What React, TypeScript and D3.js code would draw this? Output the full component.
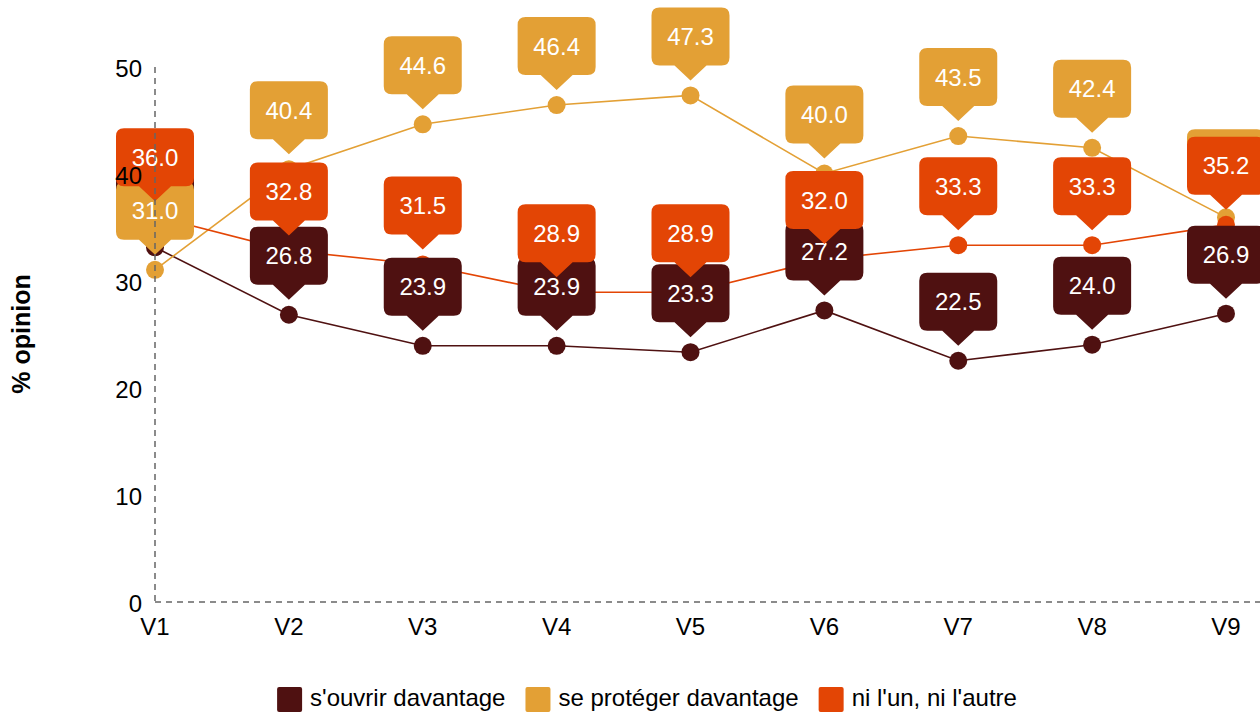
import React from 'react';
import * as d3 from 'd3';

const categories = ['V1', 'V2', 'V3', 'V4', 'V5', 'V6', 'V7', 'V8', 'V9'];
const seriesNames = ["s'ouvrir davantage", 'se protéger davantage', "ni l'un, ni l'autre"];
const ouvrirValues = [33.1, 26.8, 23.9, 23.9, 23.3, 27.2, 22.5, 24.0, 26.9];
const protegerValues = [31.0, 40.4, 44.6, 46.4, 47.3, 40.0, 43.5, 42.4, 35.9];
const niValues = [36.0, 32.8, 31.5, 28.9, 28.9, 32.0, 33.3, 33.3, 35.2];
const yTicks = [0, 10, 20, 30, 40, 50];
const seriesColors = ['#4f1111', '#e3a035', '#e34505'];
const yTitle = '% opinion';

const W = 1260;
const H = 713;
const FONT = "'Liberation Sans', Arial, Helvetica, sans-serif";

function textWidth(t: string, size: number) {
  const c = document.createElement('canvas');
  const ctx = c.getContext('2d')!;
  ctx.font = `${size}px ${FONT}`;
  return ctx.measureText(t).width;
}

function calloutPath(cx: number, cy: number) {
  const w = 78, h = 58, r = 8, ph = 15, pw = 16;
  const bottom = cy - 30;
  const top = bottom - h;
  const left = cx - w / 2;
  const right = cx + w / 2;
  return `M${left + r},${top} H${right - r} Q${right},${top} ${right},${top + r} V${bottom - r} Q${right},${bottom} ${right - r},${bottom} H${cx + pw} L${cx},${bottom + ph} L${cx - pw},${bottom} H${left + r} Q${left},${bottom} ${left},${bottom - r} V${top + r} Q${left},${top} ${left + r},${top} Z`;
}

export default function App() {
  const series = [ouvrirValues, protegerValues, niValues];
  const x = d3.scalePoint<string>().domain(categories).range([155, 1226]);
  const y = d3.scaleLinear().domain([0, 50]).range([601.5, 66.5]);
  const line = d3
    .line<number>()
    .x((_, i) => x(categories[i])!)
    .y((d) => y(d));

  // legend layout
  const sq = 25, gapText = 8, gapItem = 20, fs = 24;
  const widths = seriesNames.map((n) => sq + gapText + textWidth(n, fs));
  const total = widths.reduce((a, b) => a + b, 0) + gapItem * (seriesNames.length - 1);
  let lx = 647 - total / 2;
  const legendX = widths.map((w) => {
    const s = lx;
    lx += w + gapItem;
    return s;
  });

  return (
    <svg
      width={W}
      height={H}
      style={{ position: 'absolute', left: 0, top: 0, display: 'block', background: '#fff' }}
      fontFamily={FONT}
    >
      {series.map((vals, si) => (
        <path key={'l' + si} d={line(vals)!} fill="none" stroke={seriesColors[si]} strokeWidth={1.6} />
      ))}
      {series.map((vals, si) =>
        vals.map((v, i) => (
          <circle key={'p' + si + i} cx={x(categories[i])} cy={y(v)} r={9} fill={seriesColors[si]} />
        ))
      )}
      {series.map((vals, si) =>
        vals.map((v, i) => {
          const cx = x(categories[i])!;
          const cy = y(v);
          const top = cy - 30 - 58;
          return (
            <g key={'c' + si + i}>
              <path d={calloutPath(cx, cy)} fill={seriesColors[si]} />
              <text x={cx} y={top + 29 + 8.5} textAnchor="middle" fill="#fff" fontSize={24}>
                {v.toFixed(1)}
              </text>
            </g>
          );
        })
      )}
      {/* axes */}
      <line x1={155} x2={155} y1={67} y2={602} stroke="#666" strokeWidth={1.5} strokeDasharray="6,5" />
      <line x1={155} x2={W} y1={602} y2={602} stroke="#666" strokeWidth={1.5} strokeDasharray="6,5" />
      {yTicks.map((t) => (
        <text key={'yt' + t} x={142} y={y(t) + 10} textAnchor="end" fontSize={24} fill="#000">
          {t}
        </text>
      ))}
      {categories.map((c) => (
        <text key={'xt' + c} x={x(c)} y={635} textAnchor="middle" fontSize={24} fill="#000">
          {c}
        </text>
      ))}
      <text
        transform={`translate(30,334) rotate(-90)`}
        textAnchor="middle"
        fontSize={25}
        fontWeight="bold"
        fill="#000"
      >
        {yTitle}
      </text>
      {seriesNames.map((n, i) => (
        <g key={'lg' + i}>
          <rect x={legendX[i]} y={687} width={sq} height={sq} rx={2} fill={seriesColors[i]} />
          <text x={legendX[i] + sq + gapText} y={706} fontSize={fs} fill="#000">
            {n}
          </text>
        </g>
      ))}
    </svg>
  );
}
